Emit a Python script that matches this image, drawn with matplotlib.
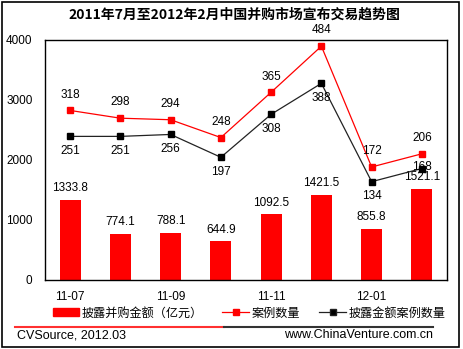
import numpy as np
import matplotlib.pyplot as plt
from matplotlib.patches import Rectangle
from matplotlib.lines import Line2D

plt.rcParams['font.family'] = ['Liberation Sans', 'Noto Sans CJK SC']

months = ["11-07", "11-08", "11-09", "11-10", "11-11", "11-12", "12-01", "12-02"]
amount = [1333.8, 774.1, 788.1, 644.9, 1092.5, 1421.5, 855.8, 1521.1]
cases = [318, 298, 294, 248, 365, 484, 172, 206]
disclosed_cases = [251, 251, 256, 197, 308, 388, 134, 168]

W, H = 463, 349
fig = plt.figure(figsize=(W / 100, H / 100), dpi=100)

# outer frame
fig.add_artist(Rectangle((2 / W, 2 / H), 457 / W, 345 / H, transform=fig.transFigure,
                         fill=False, edgecolor="black", linewidth=1.2))

fig.text(234 / W, 1 - 15 / H, "2011年7月至2012年2月中国并购市场宣布交易趋势图",
         ha="center", va="center", fontsize=10, fontweight="bold",
         family=["Noto Sans CJK SC"])

ax = fig.add_axes([45 / W, 1 - 280 / H, 402 / W, 240 / H])
x = np.arange(len(months))
bars = ax.bar(x, amount, width=0.42, color="#ff0000", zorder=2)
ax.set_xlim(-0.5, len(months) - 0.5)
ax.set_ylim(0, 4000)
ax.set_yticks([0, 1000, 2000, 3000, 4000])
ax.set_xticks(x[::2])
ax.set_xticklabels(months[::2])
ax.tick_params(axis="both", length=0, labelsize=8.5)
ax.tick_params(axis="y", pad=9)
ax.tick_params(axis="x", pad=8)
for s in ax.spines.values():
    s.set_linewidth(1.0)
for xi, v in zip(x, amount):
    ax.annotate(f"{v:.1f}", (xi, v), xytext=(0, 4), textcoords="offset points",
                ha="center", va="bottom", fontsize=8.5)

ax2 = ax.twinx()
ax2.set_ylim(-120, 500)
ax2.set_yticks([])
for s in ax2.spines.values():
    s.set_visible(False)
ax2.plot(x, cases, color="#ff0000", linewidth=0.9, marker="s", markersize=4.2, zorder=3)
ax2.plot(x, disclosed_cases, color="#222222", linewidth=0.9, marker="s", markersize=4.2,
         markerfacecolor="black", markeredgecolor="black", zorder=3)
for xi, v in zip(x, cases):
    ax2.annotate(str(v), (xi, v), xytext=(0, 7), textcoords="offset points",
                 ha="center", va="bottom", fontsize=8.5)
for i, (xi, v) in enumerate(zip(x, disclosed_cases)):
    if i == len(x) - 1:
        ax2.annotate(str(v), (xi, v), xytext=(0, -3), textcoords="offset points",
                     ha="center", va="bottom", fontsize=8.5)
    else:
        ax2.annotate(str(v), (xi, v), xytext=(0, -6), textcoords="offset points",
                     ha="center", va="top", fontsize=8.5)

handles = [
    Rectangle((0, 0), 1, 1, color="#ff0000"),
    Line2D([], [], color="#ff0000", linewidth=0.9, marker="s", markersize=4.2),
    Line2D([], [], color="#222222", linewidth=0.9, marker="s", markersize=4.2,
           markerfacecolor="black"),
]
labels = ["披露并购金额（亿元）", "案例数量", "披露金额案例数量"]
fig.legend(handles, labels, loc="center", bbox_to_anchor=(249 / W, 1 - 313 / H),
           ncol=3, frameon=False, handlelength=2.2, handleheight=0.6,
           handletextpad=0.2, columnspacing=1.6,
           prop={"family": ["Noto Sans CJK SC"], "size": 8.7})

# separator line
fig.add_artist(Line2D([15 / W, 224 / W], [1 - 326.5 / H] * 2, transform=fig.transFigure,
                      color="#ff3030", linewidth=1.5))
fig.add_artist(Line2D([224 / W, 433 / W], [1 - 326.5 / H] * 2, transform=fig.transFigure,
                      color="#333333", linewidth=1.5))

fig.text(17 / W, 1 - 335 / H, "CVSource, 2012.03", ha="left", va="center", fontsize=9)
fig.text(433 / W, 1 - 335 / H, "www.ChinaVenture.com.cn", ha="right", va="center", fontsize=9)

fig.savefig("out.png", dpi=100)
